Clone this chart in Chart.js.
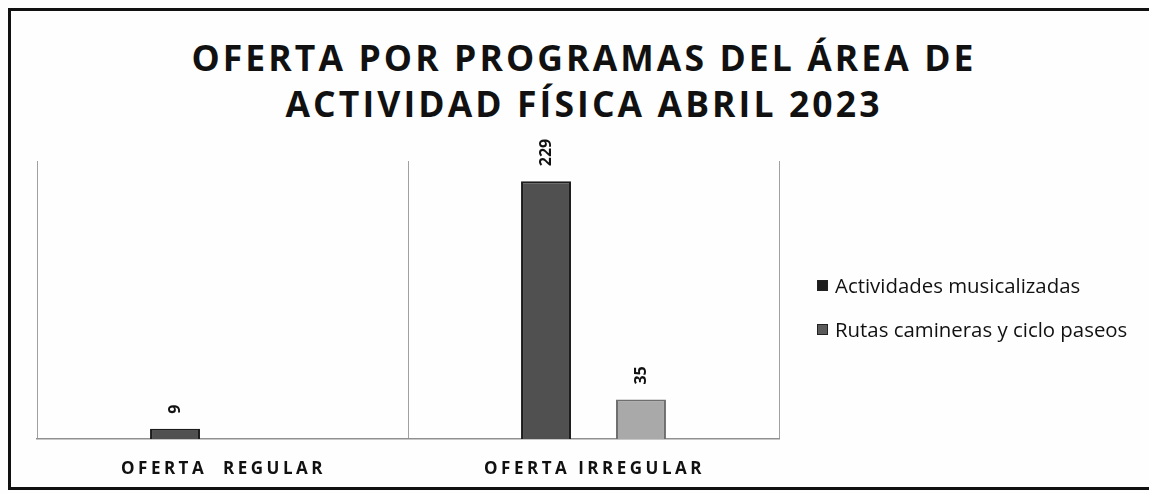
<!DOCTYPE html>
<html>
<head>
<meta charset="utf-8">
<script src="https://cdn.jsdelivr.net/npm/chart.js@4/dist/chart.umd.min.js"></script>
<style>
  html, body { margin: 0; padding: 0; background: #fff; }
  #wrap { position: relative; width: 1149px; height: 494px; overflow: hidden; background: #fefefe; }
  #frame {
    position: absolute; left: 8px; top: 8px; width: 1160px; height: 482px;
    border: 3px solid #111; border-right: none; box-sizing: border-box;
  }
  #title {
    position: absolute; left: 0; top: 34px; width: 1168px; text-align: center;
    font-family: "Open Sans", sans-serif; font-weight: 700; font-size: 35.5px;
    line-height: 46px; letter-spacing: 3.1px; color: #111;
  }
  #legend {
    position: absolute; left: 817px; top: 271px;
    font-family: "Open Sans", sans-serif; font-size: 20.4px; color: #111;
  }
  .item { display: flex; align-items: center; height: 28px; margin-bottom: 16px; }
  .box { width: 11px; height: 11px; margin-right: 7px; border: 1px solid #222; box-sizing: border-box; }
  canvas { position: absolute; left: 0; top: 0; }
</style>
</head>
<body>
<div id="wrap">
  <div id="frame"></div>
  <div id="title">OFERTA POR PROGRAMAS DEL ÁREA DE<br>ACTIVIDAD FÍSICA ABRIL 2023</div>
  <canvas id="chart" width="1149" height="494"></canvas>
  <div id="legend"></div>
</div>
<script>
const categories = ["OFERTA  REGULAR", "OFERTA IRREGULAR"]
const seriesNames = ["Actividades musicalizadas", "Rutas camineras y ciclo paseos"]
const musicalizadas = [9, 229]
const rutas = [null, 35]
const barColors = ["#505050", "#a9a9a9"]
const borderColors = ["#1c1c1c", "#6e6e6e"]
const legendColors = ["#1e1e1e", "#5a5a5a"]

// rotated value labels above each bar
const valueLabels = {
  id: "valueLabels",
  afterDatasetsDraw(chart) {
    const ctx = chart.ctx
    ctx.save()
    ctx.font = "bold 16px 'Open Sans', sans-serif"
    ctx.fillStyle = "#111"
    ctx.textAlign = "left"
    ctx.textBaseline = "middle"
    chart.data.datasets.forEach((ds, i) => {
      chart.getDatasetMeta(i).data.forEach((bar, j) => {
        if (ds.data[j] == null) return
        ctx.save()
        ctx.translate(bar.x, bar.y - 15)
        ctx.rotate(-Math.PI / 2)
        ctx.fillText(String(ds.data[j]), 0, 0)
        ctx.restore()
      })
    })
    ctx.restore()
  },
}

// category labels under the axis, letter spaced
const categoryLabels = {
  id: "categoryLabels",
  afterDraw(chart) {
    const ctx = chart.ctx
    const x = chart.scales.x
    ctx.save()
    ctx.font = "bold 17px 'Open Sans', sans-serif"
    ctx.letterSpacing = "3.5px"
    ctx.fillStyle = "#111"
    ctx.textAlign = "center"
    ctx.textBaseline = "middle"
    categories.forEach((c, i) => {
      ctx.fillText(c, x.getPixelForValue(i) + 1, chart.chartArea.bottom + 30)
    })
    ctx.restore()
  },
}

new Chart(document.getElementById("chart"), {
  type: "bar",
  data: {
    labels: categories,
    datasets: [
      {
        label: seriesNames[0],
        data: musicalizadas,
        backgroundColor: barColors[0],
        borderColor: borderColors[0],
        borderWidth: 2,
      },
      {
        label: seriesNames[1],
        data: rutas,
        backgroundColor: barColors[1],
        borderColor: borderColors[1],
        borderWidth: 2,
      },
    ],
  },
  options: {
    responsive: false,
    animation: false,
    categoryPercentage: 0.512,
    barPercentage: 0.526,
    layout: { padding: { left: 37, right: 370, top: 161, bottom: 55 } },
    plugins: {
      legend: { display: false },
      title: { display: false },
      tooltip: { enabled: false },
    },
    scales: {
      x: {
        ticks: { display: false },
        grid: { color: "#a0a0a0", lineWidth: 1, drawTicks: false, offset: true },
        border: { color: "#909090", width: 1.5 },
      },
      y: {
        display: false,
        min: 0,
        max: 247,
      },
    },
  },
  plugins: [valueLabels, categoryLabels],
})

document.getElementById("legend").innerHTML = seriesNames
  .map(
    (name, i) => `
      <div class="item"><span class="box" style="background:${legendColors[i]}"></span>${name}</div>`,
  )
  .join("")
</script>
</body>
</html>
